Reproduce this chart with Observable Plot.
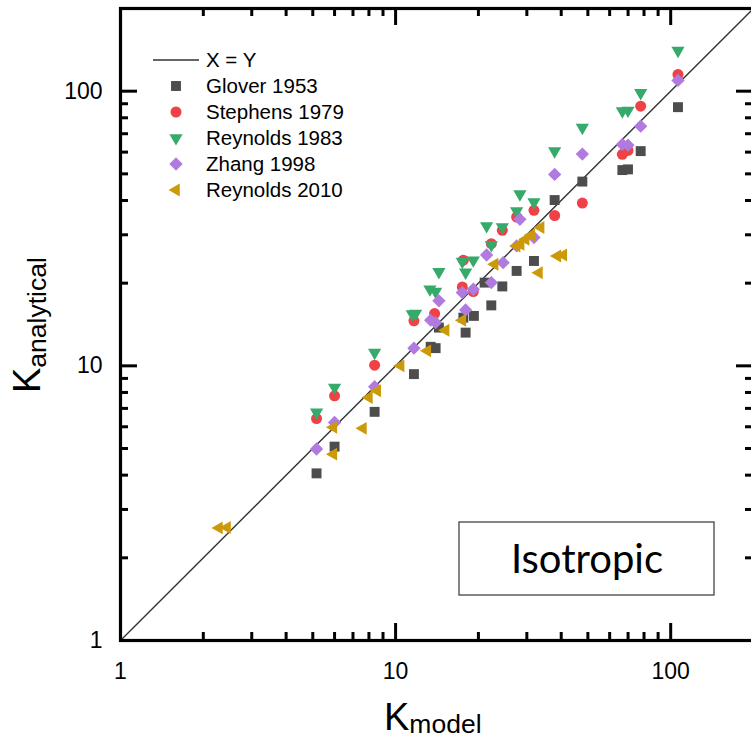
<!DOCTYPE html>
<html><head><meta charset="utf-8">
<script src="https://cdn.jsdelivr.net/npm/d3@7"></script>
<script src="https://cdn.jsdelivr.net/npm/@observablehq/plot@0.6"></script>
<style>
html,body{margin:0;padding:0;background:#fff;overflow:hidden;}
#chart{position:relative;width:751px;height:746px;overflow:hidden;}
#chart svg{max-width:none !important;}
</style></head><body><div id="chart"></div>
<script>
// ---- data ----
const seriesNames = ["Glover 1953", "Stephens 1979", "Reynolds 1983", "Zhang 1998", "Reynolds 2010"];
const seriesColors = ["#4d4d4d", "#ef4246", "#36aa6b", "#b07ade", "#cc9a08"];

const gloverX = [5.16, 6.00, 8.39, 11.66, 13.41, 13.98, 14.37, 17.63, 17.97, 19.26, 21.07, 22.28, 24.43, 27.54, 31.84, 37.86, 47.74, 66.73, 69.95, 77.79, 106.3];
const gloverY = [4.06, 5.08, 6.80, 9.33, 11.73, 11.60, 13.78, 14.98, 13.21, 15.20, 20.09, 16.60, 19.46, 22.16, 24.09, 40.14, 46.87, 51.61, 51.91, 60.50, 87.46];

const stephensX = [5.16, 6.00, 8.39, 11.66, 13.86, 17.48, 17.63, 19.16, 22.28, 24.43, 27.54, 31.84, 37.86, 47.74, 66.73, 69.95, 77.79, 106.3];
const stephensY = [6.43, 7.78, 10.06, 14.58, 15.50, 19.38, 24.24, 18.63, 27.84, 31.15, 34.83, 36.83, 35.27, 39.15, 58.88, 60.85, 88.20, 115.0];

const reynolds83X = [5.16, 6.00, 8.39, 11.50, 11.82, 13.33, 13.98, 14.37, 17.48, 17.97, 19.16, 21.42, 22.28, 24.43, 27.54, 28.31, 31.84, 37.86, 47.74, 66.73, 69.95, 77.79, 106.3];
const reynolds83Y = [6.77, 8.34, 11.18, 15.42, 15.50, 19.01, 18.63, 22.0, 23.95, 21.9, 24.24, 32.30, 27.54, 32.03, 36.62, 42.21, 39.48, 60.50, 73.67, 84.57, 85.07, 98.59, 140.6];

const zhangX = [5.16, 6.00, 8.39, 11.66, 13.41, 13.98, 14.37, 17.48, 17.97, 19.16, 21.42, 22.28, 24.60, 27.54, 28.31, 31.84, 37.86, 47.74, 66.73, 69.95, 77.79, 106.3];
const zhangY = [4.98, 6.22, 8.39, 11.60, 14.66, 14.37, 17.24, 18.48, 15.98, 19.01, 25.33, 20.09, 23.75, 27.32, 34.16, 29.33, 49.78, 59.03, 63.98, 63.60, 74.60, 109.4];

const reynolds10X = [2.28, 2.44, 5.94, 5.94, 7.61, 8.00, 8.58, 10.43, 13.04, 15.20, 17.48, 22.91, 27.54, 28.48, 29.70, 31.15, 33.68, 33.20, 38.73, 40.72];
const reynolds10Y = [2.57, 2.58, 5.97, 4.77, 5.92, 7.67, 8.11, 10.0, 11.34, 13.48, 14.66, 23.44, 27.32, 27.70, 28.89, 29.95, 31.89, 21.84, 25.12, 25.33];

const majorTicks = [1, 10, 100];
const minorTicks = [2, 3, 4, 5, 6, 7, 8, 9, 20, 30, 40, 50, 60, 70, 80, 90];
const identityLine = [1, 200];
const axisDomain = [1, 200];
const annotationText = "Isotropic";

// ---- symbols ----
const sqrt3 = Math.sqrt(3);
const triangleDown = {draw(ctx, size) {
  const y = -Math.sqrt(size / (sqrt3 * 3));
  ctx.moveTo(0, -y * 2); ctx.lineTo(-sqrt3 * y, y); ctx.lineTo(sqrt3 * y, y); ctx.closePath();
}};
const triangleLeft = {draw(ctx, size) {
  const y = -Math.sqrt(size / (sqrt3 * 3));
  ctx.moveTo(y * 2, 0); ctx.lineTo(-y, -sqrt3 * y); ctx.lineTo(-y, sqrt3 * y); ctx.closePath();
}};
const symbolDefs = [
  {symbol: "square", r: 5.6},
  {symbol: "circle", r: 5.5},
  {symbol: triangleDown, r: 4.9},
  {symbol: "diamond2", r: 6.0},
  {symbol: triangleLeft, r: 4.8}
];
const seriesData = [
  [gloverX, gloverY], [stephensX, stephensY], [reynolds83X, reynolds83Y], [zhangX, zhangY], [reynolds10X, reynolds10Y]
].map(([xs, ys], i) => xs.map((x, j) => ({series: seriesNames[i], x, y: ys[j]})));

// ---- layout ----
const W = 760, H = 746, mL = 120, mR = 7, mT = 8, mB = 106;
const plotW = W - mL - mR, plotH = H - mT - mB;
const font = "'Liberation Sans', Arial, sans-serif";

// tick length (pixels) expressed as a factor along the log axes
const [dMin, dMax] = axisDomain;
const fx = px => Math.pow(dMax / dMin, px / plotW);
const fy = px => Math.pow(dMax / dMin, px / plotH);

const dotMarks = seriesData.map((rows, i) => Plot.dot(rows, {
  x: "x", y: "y", symbol: symbolDefs[i].symbol, r: symbolDefs[i].r,
  fill: seriesColors[i], stroke: "none"
}));

const tickStyle = {stroke: "black", strokeWidth: 3};
const tickMarks = [];
[[majorTicks, 17], [minorTicks, 8]].forEach(([ticks, len]) => {
  tickMarks.push(
    Plot.ruleX(ticks, {x: d => d, y1: () => dMin, y2: () => dMin * fy(len), ...tickStyle}),
    Plot.ruleX(ticks, {x: d => d, y1: () => dMax, y2: () => dMax / fy(len), ...tickStyle}),
    Plot.ruleY(ticks, {y: d => d, x1: () => dMin, x2: () => dMin * fx(len), ...tickStyle}),
    Plot.ruleY(ticks, {y: d => d, x1: () => dMax, x2: () => dMax / fx(len), ...tickStyle})
  );
});

const chart = Plot.plot({
  width: W, height: H,
  marginLeft: mL, marginRight: mR, marginTop: mT, marginBottom: mB,
  style: {fontFamily: font, background: "white", overflow: "visible", maxWidth: "none"},
  x: {type: "log", domain: axisDomain, axis: null},
  y: {type: "log", domain: axisDomain, axis: null},
  marks: [
    Plot.line(identityLine, {x: d => d, y: d => d, stroke: "#333", strokeWidth: 1.4}),
    ...dotMarks,
    ...tickMarks,
    Plot.frame({stroke: "black", strokeWidth: 3.2}),
    // tick labels
    Plot.text(majorTicks, {x: d => d, frameAnchor: "bottom", dy: 31, text: d => String(d),
      fontSize: 23, fill: "black", lineAnchor: "middle"}),
    Plot.text(majorTicks, {y: d => d, frameAnchor: "left", dx: -18, text: d => String(d),
      fontSize: 23, fill: "black", textAnchor: "end"})
  ]
});
document.getElementById("chart").appendChild(chart);

// ---- axis titles, legend and annotation box ----
const svg = d3.select(chart);
const xt = svg.append("text").attr("x", 384).attr("y", 730).attr("text-anchor", "start")
  .attr("font-family", font).attr("fill", "black");
xt.append("tspan").attr("font-size", 38).text("K");
xt.append("tspan").attr("font-size", 26.5).attr("dy", 3).text("model");

const yt = svg.append("text").attr("transform", "translate(40,393) rotate(-90)").attr("text-anchor", "start")
  .attr("font-family", font).attr("fill", "black");
yt.append("tspan").attr("font-size", 38).text("K");
yt.append("tspan").attr("font-size", 26.5).attr("dy", 6).text("analytical");

const lg = svg.append("g").attr("font-family", font).attr("font-size", 20.5).attr("text-anchor", "start").attr("fill", "black");
lg.append("line").attr("x1", 153).attr("x2", 199).attr("y1", 60).attr("y2", 60).attr("stroke", "#333").attr("stroke-width", 1.4);
lg.append("text").attr("x", 206).attr("y", 60).attr("dy", "0.35em").text("X = Y");
seriesNames.forEach((name, i) => {
  const cy = 86 + i * 26;
  const s = symbolDefs[i];
  const symObj = typeof s.symbol === "string"
    ? {square: d3.symbolSquare, circle: d3.symbolCircle, diamond2: d3.symbolDiamond2}[s.symbol]
    : s.symbol;
  lg.append("path").attr("transform", `translate(176,${cy})`)
    .attr("d", d3.symbol(symObj, Math.PI * s.r * s.r)()).attr("fill", seriesColors[i]);
  lg.append("text").attr("x", 206).attr("y", cy).attr("dy", "0.35em").text(name);
});

svg.append("rect").attr("x", 459).attr("y", 522).attr("width", 255).attr("height", 73)
  .attr("fill", "white").attr("stroke", "#444").attr("stroke-width", 1.3);
svg.append("text").attr("x", 587).attr("y", 573).attr("text-anchor", "middle")
  .attr("font-family", "Lato, 'Liberation Sans', sans-serif").attr("font-size", 40).attr("fill", "black").text(annotationText);
</script>
</body></html>
